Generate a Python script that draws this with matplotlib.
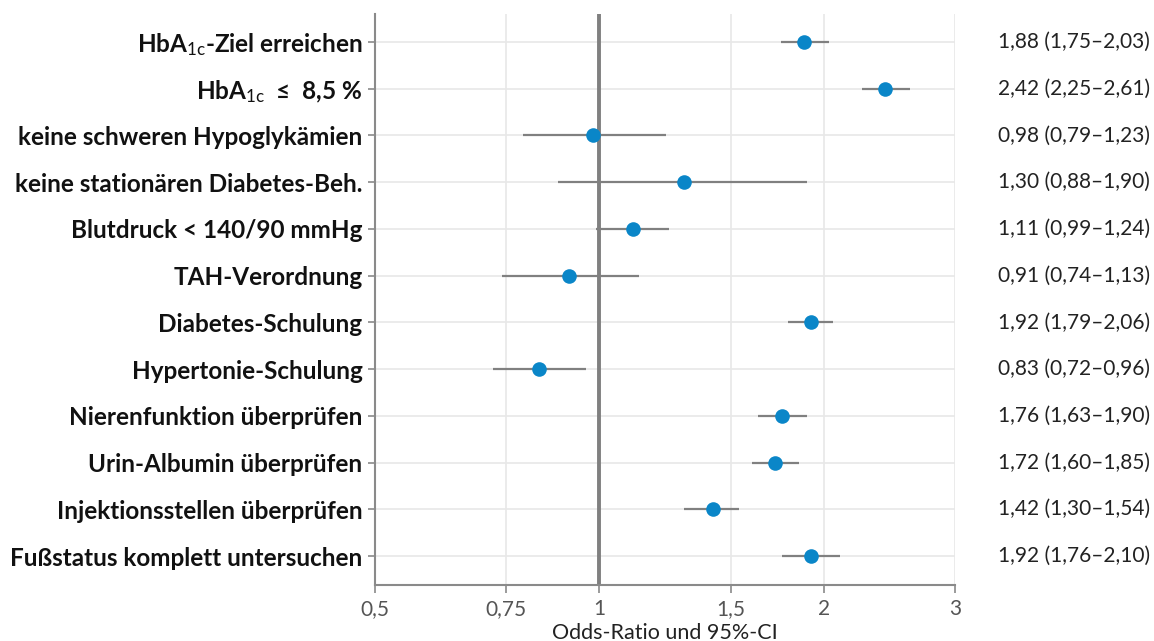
import matplotlib
matplotlib.use("Agg")
import matplotlib.pyplot as plt
import matplotlib.transforms as mtransforms
import numpy as np

plt.rcParams['font.family'] = ['Lato', 'DejaVu Sans']
plt.rcParams['mathtext.fontset'] = 'custom'
plt.rcParams['mathtext.rm'] = 'Lato'
plt.rcParams['mathtext.it'] = 'Lato:italic'
plt.rcParams['mathtext.bf'] = 'Lato:bold'

labels = [
    r"HbA$_\mathrm{1c}$-Ziel erreichen",
    r"HbA$_\mathrm{1c}$  ≤  8,5 %",
    "keine schweren Hypoglykämien",
    "keine stationären Diabetes-Beh.",
    "Blutdruck < 140/90 mmHg",
    "TAH-Verordnung",
    "Diabetes-Schulung",
    "Hypertonie-Schulung",
    "Nierenfunktion überprüfen",
    "Urin-Albumin überprüfen",
    "Injektionsstellen überprüfen",
    "Fußstatus komplett untersuchen",
]
odds = [1.88, 2.42, 0.98, 1.30, 1.11, 0.91, 1.92, 0.83, 1.76, 1.72, 1.42, 1.92]
ci_low = [1.75, 2.25, 0.79, 0.88, 0.99, 0.74, 1.79, 0.72, 1.63, 1.60, 1.30, 1.76]
ci_high = [2.03, 2.61, 1.23, 1.90, 1.24, 1.13, 2.06, 0.96, 1.90, 1.85, 1.54, 2.10]
xticks = [0.5, 0.75, 1, 1.5, 2, 3]
xtick_labels = ["0,5", "0,75", "1", "1,5", "2", "3"]
xlabel = "Odds-Ratio und 95%-CI"

W, H = 1154, 641
fig = plt.figure(figsize=(W / 100, H / 100), dpi=100)
ax = fig.add_axes([375 / W, 1 - 585 / H, (955 - 375) / W, (585 - 14) / H])

grid_c = '#e8e8e8'
axis_c = '#8a8a8a'
line_c = '#808080'
dot_c = '#0A86C8'

y = np.arange(len(labels))
ax.set_xscale('log')
ax.set_xlim(0.5, 3)
ax.set_ylim(len(labels) - 1 + 0.62, -0.6)

for xv in xticks:
    ax.axvline(xv, color=grid_c, lw=1.2, zorder=0)
for yv in y:
    ax.axhline(yv, color=grid_c, lw=1.2, zorder=0)

ax.axvline(1, color=line_c, lw=2.8, zorder=1)

ax.hlines(y, ci_low, ci_high, color=line_c, lw=1.6, zorder=2)
ax.plot(odds, y, 'o', color=dot_c, markersize=10.5, markeredgewidth=0, zorder=3)

ax.set_xticks(xticks)
ax.set_xticklabels(xtick_labels)
ax.xaxis.set_minor_locator(matplotlib.ticker.NullLocator())
ax.set_yticks(y)
ax.set_yticklabels(labels, fontweight='bold', fontsize=17.5, color='#111111')

ax.tick_params(axis='x', colors=axis_c, length=6, width=1.2, labelsize=15, labelcolor='#555555', pad=4)
ax.tick_params(axis='y', colors=axis_c, length=5, width=1.2, labelcolor='#111111', pad=4)

for s in ['top', 'right']:
    ax.spines[s].set_visible(False)
for s in ['left', 'bottom']:
    ax.spines[s].set_color(axis_c)
    ax.spines[s].set_linewidth(1.5)

ax.set_xlabel(xlabel, fontsize=15.5, color='#222222', labelpad=3)

trans = mtransforms.blended_transform_factory(fig.transFigure, ax.transData)
for yi, o, lo, hi in zip(y, odds, ci_low, ci_high):
    txt = f"{o:.2f} ({lo:.2f}–{hi:.2f})".replace('.', ',')
    ax.text(998 / W, yi, txt, transform=trans, ha='left', va='center',
            fontsize=15, color='#222222', clip_on=False)

fig.savefig('out.png', dpi=100)
